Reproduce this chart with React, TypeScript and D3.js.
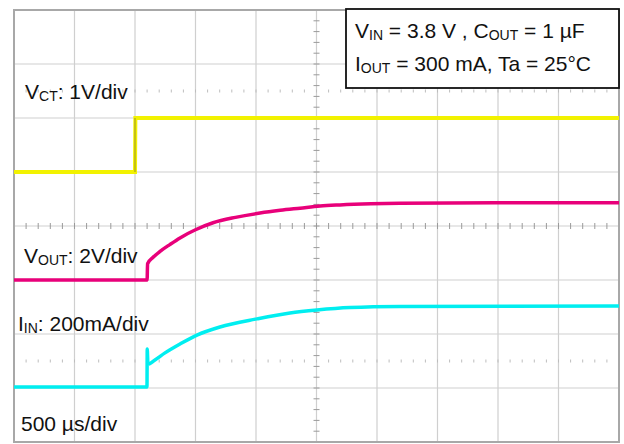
import React from "react";
import * as d3 from "d3";

// time in µs (500 µs/div, 10 divisions), level in divisions from bottom (8 divisions)
const vctT = [0, 1000, 1003, 5000];
const vctV = [5.0, 5.0, 6.0, 6.0];

const voutT = [0, 1100, 1104, 1150, 1207, 1290, 1372, 1500, 1645, 1830, 2033, 2200, 2364, 2530, 2694, 2950, 3190, 4000, 5000];
const voutV = [3.0, 3.0, 3.3, 3.42, 3.53, 3.66, 3.78, 3.93, 4.06, 4.16, 4.24, 4.29, 4.33, 4.37, 4.39, 4.41, 4.42, 4.43, 4.43];

const iinT = [0, 1099, 1101, 1107, 1165, 1248, 1372, 1512, 1702, 2008, 2281, 2504, 2777, 3190, 5000];
const iinV = [1.02, 1.02, 1.72, 1.44, 1.52, 1.65, 1.815, 1.98, 2.13, 2.28, 2.39, 2.445, 2.49, 2.51, 2.52];

const xDivs = d3.range(0, 11);
const yDivs = d3.range(0, 9);
const markerLevels = [6.5, 1.5];

const W = 624;
const H = 444;
const L = 14, R = 619, T = 10, B = 442;

export default function App() {
  const x = d3.scaleLinear().domain([0, 5000]).range([L, R]);
  const xd = d3.scaleLinear().domain([0, 10]).range([L, R]);
  const y = d3.scaleLinear().domain([0, 8]).range([B, T]);

  const mk = (ts: number[], vs: number[]) =>
    d3.line<number>().x((_, i) => x(ts[i])).y((_, i) => y(vs[i])).curve(d3.curveMonotoneX)(ts) || "";
  const mkStep = (ts: number[], vs: number[]) =>
    d3.line<number>().x((_, i) => x(ts[i])).y((_, i) => y(vs[i])).curve(d3.curveLinear)(ts) || "";

  const minorX = d3.range(0, 50.01, 1).map((i) => xd(i / 5));
  const minorY = d3.range(0, 40.01, 1).map((i) => y(i / 5));
  const cx = xd(5);
  const cy = y(4);

  const font = "'Liberation Sans', Arial, sans-serif";
  const sub = { fontSize: 14 };

  return (
    <svg width={W} height={H} style={{ position: "absolute", left: 0, top: 0, background: "#fff" }} fontFamily={font}>
      <rect x={0} y={0} width={W} height={H} fill="#fff" />
      {/* grid */}
      {xDivs.slice(1, -1).map((d) => (
        <line key={"gx" + d} x1={xd(d)} x2={xd(d)} y1={T} y2={B} stroke="#cfcfcf" strokeWidth={1.2} />
      ))}
      {yDivs.slice(1, -1).map((d) => (
        <line key={"gy" + d} x1={L} x2={R} y1={y(d)} y2={y(d)} stroke="#cfcfcf" strokeWidth={1.2} />
      ))}
      {/* center ticks */}
      {minorX.map((px, i) => (
        <line key={"tx" + i} x1={px} x2={px} y1={cy - 3} y2={cy + 3} stroke="#9a9a9a" strokeWidth={1} />
      ))}
      {minorY.map((py, i) => (
        <line key={"ty" + i} x1={cx - 3} x2={cx + 3} y1={py} y2={py} stroke="#9a9a9a" strokeWidth={1} />
      ))}
      {/* marker dotted lines */}
      {markerLevels.map((lv) =>
        minorX.map((px, i) => (
          <line key={"m" + lv + "_" + i} x1={px} x2={px} y1={y(lv) - 1.5} y2={y(lv) + 1.5} stroke="#bdbdbd" strokeWidth={1} />
        ))
      )}
      {/* border */}
      <rect x={L} y={T} width={R - L} height={B - T} fill="none" stroke="#a8a8a8" strokeWidth={2} />

      {/* traces */}
      <path d={mkStep(vctT, vctV)} fill="none" stroke="#f2f200" strokeWidth={4} />
      <line x1={x(vctT[1])} x2={x(vctT[1])} y1={y(vctV[1])} y2={y(vctV[2])} stroke="#a8a020" strokeWidth={1.2} />
      <path d={mk(voutT, voutV)} fill="none" stroke="#e8007a" strokeWidth={3.5} />
      <path d={mk(iinT, iinV)} fill="none" stroke="#00eef0" strokeWidth={3.5} />

      {/* labels */}
      <text x={25} y={99} fontSize={21} fill="#111">
        V<tspan {...sub} dy={2}>CT</tspan><tspan dy={-2}>: 1V/div</tspan>
      </text>
      <text x={24} y={263} fontSize={21} fill="#111">
        V<tspan {...sub} dy={2}>OUT</tspan><tspan dy={-2}>: 2V/div</tspan>
      </text>
      <text x={18} y={331} fontSize={21} fill="#111">
        I<tspan {...sub} dy={2}>IN</tspan><tspan dy={-2}>: 200mA/div</tspan>
      </text>
      <text x={21} y={431} fontSize={21} fill="#111">500 µs/div</text>

      {/* condition box */}
      <rect x={346} y={9} width={273} height={79} fill="#fff" stroke="#111" strokeWidth={1.8} />
      <text x={355} y={38} fontSize={21} fill="#111">
        V<tspan {...sub} dy={2}>IN</tspan><tspan dy={-2}> = 3.8 V , C</tspan><tspan {...sub} dy={2}>OUT</tspan><tspan dy={-2}> = 1 µF</tspan>
      </text>
      <text x={355} y={71} fontSize={21} fill="#111">
        I<tspan {...sub} dy={2}>OUT</tspan><tspan dy={-2}> = 300 mA, Ta = 25°C</tspan>
      </text>
    </svg>
  );
}
